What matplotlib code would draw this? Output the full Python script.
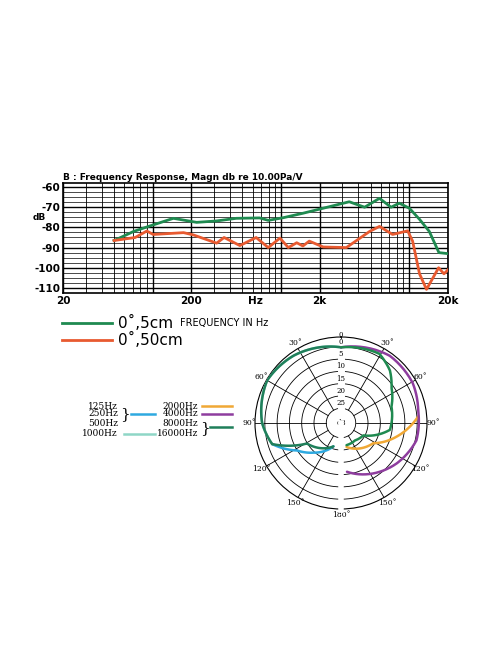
import numpy as np
import matplotlib
matplotlib.use("Agg")
import matplotlib.pyplot as plt

# ---- frequency response data ----
green_f = [50, 71, 95, 145, 220, 315, 448, 680, 795, 1040, 1480, 2130, 3400, 4480, 5850, 7200, 8350, 10000, 12000, 14300, 17000, 20000]
green_db = [-86.5, -82, -79.3, -75.5, -77.5, -76.8, -75.5, -75.3, -76.5, -75.2, -73, -70.5, -67.3, -70, -65.6, -70, -68, -70.5, -76, -82, -92.5, -93]
red_f = [50, 73, 90, 101, 174, 207, 315, 360, 478, 640, 795, 980, 1140, 1325, 1480, 1660, 2130, 3230, 4900, 5850, 7400, 9700, 10600, 12000, 13600, 16900, 18600, 20000]
red_db = [-86.5, -85, -81.8, -83.5, -82.6, -83.7, -87.8, -85, -89, -85, -90, -85.3, -90, -87.6, -89.2, -86.8, -89.7, -90, -82, -79.5, -83.5, -81.7, -86.8, -103, -110.7, -100, -103, -101]
y_ticks = [-60, -70, -80, -90, -100, -110]
x_ticks = [20, 200, 632, 2000, 20000]
x_labels = ["20", "200", "Hz", "2k", "20k"]

# ---- polar data (angle deg, level dB) ----
left_ang = [0, -35, -60, -90, -107]
left_db = [-0.2, 2.5, 3.7, 1.1, -1.7]
dg_left_ang = [-107, -121, -162]
dg_left_db = [-1.7, -14.8, -21]
blue_ang = [-107, -122, -137, -162]
blue_db = [-1.7, -9.9, -14.5, -21]
purple_ang = [0, 36, 61, 81, 103, 126, 173]
purple_db = [-0.2, 2.8, 2.4, 0.8, 0.5, -3.0, -11]
orange_ang = [85, 104, 122, 167]
orange_db = [0.6, -7.8, -15.5, -21]
gright_ang = [0, 29, 43, 55, 72, 98, 119, 141, 166]
gright_db = [-0.2, 1.2, -1.8, -5.9, -9.4, -10.9, -20.6, -21.9, -21.7]
ring_labels = ["0", "5", "10", "15", "20", "25"]

GREEN = "#1f8a50"; RED = "#e85a30"; PURPLE = "#8e3d9e"; ORANGE = "#f0a835"
BLUE = "#2ea9e0"; TEAL = "#8fd6c6"; DGREEN = "#1f7f5a"

fig = plt.figure(figsize=(4.96, 6.64), dpi=100)
W, H = 496, 664
def fx(x): return x / W
def fy(y): return 1 - y / H

# ---- frequency response ----
ax = fig.add_axes([fx(63), fy(293), 385 / W, 110 / H])
ax.set_xscale("log")
ax.set_xlim(20, 20000)
ax.set_ylim(-112.5, -58)
for dec in [10, 100, 1000, 10000]:
    for m in range(1, 10):
        f = dec * m
        if 20 <= f <= 20000:
            ax.axvline(f, color="black", lw=1.0 if m in (1, 2) else 0.6, zorder=1)
for v in np.arange(-110, -57.5, 2.5):
    ax.axhline(v, color="black", lw=1.0 if v % 10 == 0 else 0.5, zorder=1)
ax.plot(green_f, green_db, color=GREEN, lw=2, zorder=3)
ax.plot(red_f, red_db, color=RED, lw=2, zorder=3)
ax.set_yticks(y_ticks)
ax.set_yticklabels([str(t) for t in y_ticks], fontsize=7.5, fontweight="bold")
ax.set_xticks(x_ticks)
ax.set_xticklabels(x_labels, fontsize=7.5, fontweight="bold")
ax.minorticks_off()
ax.tick_params(length=0, pad=2)
for s in ax.spines.values():
    s.set_linewidth(1.2)
fig.text(fx(63), fy(177), "B : Frequency Response, Magn db re 10.00Pa/V", fontsize=6.5,
         fontweight="bold", va="center", ha="left")
fig.text(fx(33), fy(217), "dB", fontsize=6.5, fontweight="bold", va="center")

# ---- legend ----
fig.add_artist(plt.Line2D([fx(62), fx(112)], [fy(323), fy(323)], color=GREEN, lw=2))
fig.add_artist(plt.Line2D([fx(62), fx(112)], [fy(340), fy(340)], color=RED, lw=2))
fig.text(fx(118), fy(323), "0˚,5cm", fontsize=11, va="center")
fig.text(fx(118), fy(340), "0˚,50cm", fontsize=11, va="center")
fig.text(fx(180), fy(323), "FREQUENCY IN Hz", fontsize=7, va="center")

# ---- polar legend ----
lf = dict(fontsize=6.5, va="center", ha="right", family="DejaVu Serif")
for t, y in zip(["125Hz", "250Hz", "500Hz", "1000Hz"], [406, 414, 423, 433]):
    fig.text(fx(118), fy(y), t, **lf)
for t, y in zip(["2000Hz", "4000Hz", "8000Hz", "16000Hz"], [406, 414, 423, 433]):
    fig.text(fx(198), fy(y), t, **lf)
fig.text(fx(120), fy(414), "}", fontsize=11, va="center", family="DejaVu Serif")
fig.text(fx(200), fy(428), "}", fontsize=11, va="center", family="DejaVu Serif")
for (x0, x1, y, c) in [(131, 155, 414, BLUE), (124, 155, 434, TEAL),
                       (202, 232, 406, ORANGE), (202, 232, 414, PURPLE), (210, 232, 427, DGREEN)]:
    fig.add_artist(plt.Line2D([fx(x0), fx(x1)], [fy(y), fy(y)], color=c, lw=1.8))

# ---- polar ----
pa = fig.add_axes([fx(255), fy(509), 172 / W, 172 / H], projection="polar")
pa.set_theta_zero_location("N")
pa.set_theta_direction(-1)
pa.set_ylim(0, 35)
pa.grid(False)
pa.set_xticks([]); pa.set_yticks([])
pa.spines["polar"].set_linewidth(0.8)
th = np.linspace(0, 2 * np.pi, 361)
for r in [6, 11, 16, 21, 26, 31]:
    pa.plot(th, np.full_like(th, r), color="black", lw=0.6)
for a in range(0, 360, 30):
    pa.plot([np.radians(a)] * 2, [6, 35], color="black", lw=0.6)
pa.plot([np.pi] * 2, [0, 35.5], color="white", lw=4, clip_on=False, zorder=4)
pa.plot([0, 0], [6, 33], color="white", lw=5, zorder=2)

def P(ang, db, c, z=3):
    ln, = pa.plot(np.radians(ang), 31 + np.array(db), color=c, lw=1.8, zorder=z,
                  solid_capstyle="round", solid_joinstyle="round")
    ln.get_path()._interpolation_steps = 30
P(left_ang, left_db, TEAL, 3)
P(blue_ang, blue_db, BLUE, 3)
P(left_ang, left_db, DGREEN, 5)
P(dg_left_ang, dg_left_db, DGREEN, 5)
P(orange_ang, orange_db, ORANGE, 5)
P(purple_ang, purple_db, PURPLE, 5)
P(gright_ang, gright_db, GREEN, 6)

for lab, r in zip(ring_labels, [31, 26, 21, 16, 11, 6]):
    pa.text(0, r + 2.0, lab, fontsize=5, ha="center", va="center", zorder=7, family="DejaVu Serif")
pa.text(0, 35.8, "0", fontsize=5, ha="center", va="center", family="DejaVu Serif")
pa.text(0, 0, "dB", fontsize=5, ha="center", va="center", family="DejaVu Serif")
for a in [30, 60, 90, 120, 150, -30, -60, -90, -120, -150, 180]:
    pa.text(np.radians(a), 37.5, f"{abs(a)}˚", fontsize=5.5, ha="center", va="center",
            family="DejaVu Serif", clip_on=False)

fig.savefig("out.png", dpi=100, facecolor="white")
